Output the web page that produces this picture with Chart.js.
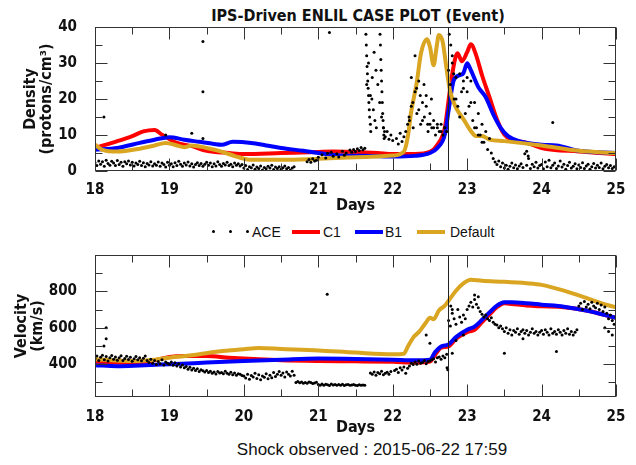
<!DOCTYPE html>
<html>
<head>
<meta charset="utf-8">
<script src="https://cdn.jsdelivr.net/npm/chart.js@4.4.0/dist/chart.umd.min.js"></script>
<style>
  html, body { margin: 0; padding: 0; background: #fff; }
  body { width: 636px; height: 465px; position: relative; overflow: hidden; font-family: "Liberation Sans", Arial, sans-serif; }
  .plot-title { position: absolute; left: 0; top: 6px; width: 716px; text-align: center; font: bold 16px "DejaVu Sans Condensed", "DejaVu Sans", sans-serif; color: #111; }
  .box { position: absolute; left: 0; width: 636px; }
  .legend { position: absolute; top: 222px; left: 0; width: 636px; height: 20px; font-size: 14px; color: #111; }
  .legend .dot { position: absolute; top: 8px; width: 3px; height: 3px; border-radius: 50%; background: #000; }
  .legend .ln { position: absolute; top: 8px; width: 28px; height: 4px; }
  .legend .txt { position: absolute; top: 1px; line-height: 18px; }
  .shock { position: absolute; left: 0; top: 440px; width: 744px; text-align: center; font-size: 17px; line-height: 20px; color: #111; }
</style>
</head>
<body>
<div class="plot-title">IPS-Driven ENLIL CASE PLOT (Event)</div>
<div class="box" style="top:0;height:220px;"><canvas id="density-chart" width="636" height="220"></canvas></div>
<div class="legend">
  <span class="dot" style="left:212px"></span><span class="dot" style="left:229px"></span><span class="dot" style="left:246px"></span>
  <span class="txt" style="left:252px">ACE</span>
  <span class="ln" style="left:292px;background:#ff0000"></span><span class="txt" style="left:323px">C1</span>
  <span class="ln" style="left:355px;background:#0000ff"></span><span class="txt" style="left:385px">B1</span>
  <span class="ln" style="left:417px;background:#daa520"></span><span class="txt" style="left:450px">Default</span>
</div>
<div class="box" style="top:235px;height:205px;"><canvas id="velocity-chart" width="636" height="205"></canvas></div>
<div class="shock">Shock observed : 2015-06-22 17:59</div>

<script>
// ---- data ----
const dayTicks = [18, 19, 20, 21, 22, 23, 24, 25];
const dayMinorTicks = [18.5, 19.5, 20.5, 21.5, 22.5, 23.5, 24.5];
const densityTicks = [0, 10, 20, 30, 40];
const densityMinorTicks = [5, 15, 25, 35];
const velocityTicks = [400, 600, 800];
const velocityMinorTicks = [300, 500, 700, 900];
const shockDay = 22.749; // 2015-06-22 17:59

// model runs: [day, value]
const c1Density = [[18, 6.4], [18.3, 8.3], [18.5, 9.7], [18.65, 11], [18.8, 11.4], [18.9, 10.1], [19.1, 7.8], [19.3, 6.9], [19.5, 5.6], [19.8, 5.0], [20, 4.7], [20.5, 5.0], [21, 5.3], [21.2, 5.4], [21.5, 5.3], [21.8, 5.0], [22, 4.7], [22.3, 4.7], [22.5, 5.3], [22.6, 7.3], [22.7, 12], [22.75, 19.5], [22.8, 27], [22.87, 32.7], [22.93, 30.5], [23, 33], [23.05, 35.2], [23.12, 32.2], [23.2, 26.6], [23.3, 20.5], [23.4, 14.4], [23.5, 10.1], [23.6, 8.7], [23.8, 7.8], [24, 6.4], [24.5, 5.4], [25, 4.7]];
const b1Density = [[18, 5.9], [18.3, 6.4], [18.6, 7.8], [18.8, 8.7], [19, 9.4], [19.2, 8.7], [19.4, 8.1], [19.6, 7.5], [19.7, 7.3], [19.85, 8.1], [20.1, 7.8], [20.3, 7.1], [20.5, 6.4], [20.8, 5.6], [21, 5.0], [21.3, 4.3], [21.7, 4.2], [22, 4.0], [22.3, 4.2], [22.5, 5.0], [22.6, 6.4], [22.7, 10.1], [22.75, 16.7], [22.82, 25.2], [22.9, 26.6], [22.95, 27.2], [23, 29.9], [23.05, 28], [23.15, 23.3], [23.25, 20.5], [23.35, 15.8], [23.45, 12], [23.55, 9.7], [23.7, 8.3], [24, 7.3], [24.2, 7.1], [24.5, 5.6], [25, 5.0]];
const defaultDensity = [[18, 7.3], [18.1, 5.9], [18.3, 5.4], [18.6, 6.2], [18.8, 7.1], [18.95, 7.8], [19.1, 7.1], [19.2, 6.6], [19.3, 7.1], [19.5, 6.4], [19.7, 5.4], [19.9, 4.0], [20.1, 3.1], [20.5, 3.1], [21, 3.4], [21.5, 3.8], [22, 4.3], [22.15, 5.4], [22.2, 9.2], [22.25, 16.7], [22.32, 24.2], [22.38, 32.7], [22.46, 36.6], [22.5, 34.5], [22.55, 29.4], [22.59, 34.5], [22.62, 37.8], [22.67, 36], [22.72, 28.9], [22.77, 22.3], [22.85, 17.6], [22.95, 14.4], [23.05, 11.1], [23.12, 9.7], [23.2, 9.7], [23.3, 8.7], [23.5, 8.3], [24, 7.1], [24.5, 5.6], [25, 5.0]];

const c1Velocity = [[18, 413], [18.5, 407], [18.8, 422], [19, 440], [19.2, 445], [19.5, 445], [19.8, 436], [20.2, 427], [20.5, 422], [21, 418], [21.5, 416], [22, 413], [22.3, 409], [22.5, 415], [22.58, 458], [22.65, 491], [22.75, 498], [22.85, 540], [23, 576], [23.1, 589], [23.2, 631], [23.3, 673], [23.4, 713], [23.5, 735], [23.6, 731], [23.8, 722], [24, 718], [24.3, 713], [24.6, 695], [25, 655]];
const b1Velocity = [[18, 395], [18.3, 389], [18.6, 393], [19, 400], [19.5, 409], [20, 418], [20.5, 425], [21, 431], [21.5, 429], [22, 425], [22.3, 422], [22.5, 425], [22.57, 467], [22.65, 498], [22.75, 509], [22.85, 549], [23, 589], [23.1, 607], [23.2, 644], [23.3, 685], [23.4, 722], [23.5, 740], [23.6, 740], [23.8, 735], [24, 727], [24.3, 716], [24.6, 695], [25, 655]];
const defaultVelocity = [[18, 427], [18.5, 418], [18.8, 425], [19, 436], [19.3, 449], [19.6, 467], [20, 482], [20.2, 489], [20.5, 484], [21, 476], [21.5, 464], [22, 455], [22.15, 458], [22.2, 495], [22.28, 549], [22.35, 576], [22.45, 631], [22.5, 655], [22.55, 647], [22.62, 695], [22.7, 722], [22.75, 749], [22.85, 804], [22.95, 844], [23.05, 864], [23.2, 858], [23.5, 853], [23.8, 845], [24, 836], [24.3, 804], [24.6, 764], [24.8, 735], [25, 713]];

// ACE observations, one value every 0.025 day from day 18 (null = no data)
const aceStart = 18;
const aceStep = 0.025;
const aceDensity = [
  2.3, 1.5, 2.8, 1.9, 2.6, 1.3, 3.0, 2.1, 1.6, 2.7, 2.2, 1.5, 2.9, 1.8, 2.4, 1.3, 2.6, 2.0, 2.8, 1.7,
  2.4, 1.4, 2.2, 1.8, 2.7, 1.5, 2.3, 1.2, 2.1, 1.7, 2.6, 1.4, 2.0, 1.6, 2.5, 1.3, 2.2, 1.8, 1.1, 2.4,
  1.6, 2.0, 1.2, 2.3, 1.5, 2.7, 1.9, 1.3, 2.2, 1.7, 2.5, 1.4, 2.0, 1.1, 1.8, 2.3, 1.5, 2.1, 1.3, 1.9,
  2.4, 1.6, 2.2, 1.2, 2.0, 1.4, 2.6, 1.8, 1.3, 2.1, 1.7, 2.4, 1.5, 1.9, 1.2, 2.2, 1.6, 2.0, 1.4, 1.8,
  0.8, 1.5, 0.4, 1.2, 0.9, 1.7, 0.5, 1.1, 0.7, 1.4, 0.3, 1.0, 0.6, 1.3, 0.8, 1.6, 0.4, 1.1, 0.7, 1.2,
  0.5, 0.9, 1.4, 0.6, 1.0, 0.3, 0.8, 1.2, null, null, null, null, null, null, 2.6, 3.2, 2.4, 3.4, 2.8, 3.0,
  3.8, null, 4.5, null, 3.6, 4.9, null, 5.2, 4.1, null, 4.8, 3.9, null, 5.5, 4.4, 5.0, null, 5.8, 5.2, 6.0,
  5.4, 6.2, 5.7, 6.5, 5.9, 6.3, 24, 30, 21, 26, 33, 28, 24, 19, 15, 12, 9.5, 11, 8.8, 10,
  8.5, null, 9.0, 7.5, 10.5, 8.2, 9.5, 11, 13, 14, 18, 12, 22, 16, 25, 13, 19, 15, 21, 11,
  13, 12, 14, 10, 12, 11, 13, 10, 12, 11, 28, 24, 30, 20, 26, 18, 27, 22, 25, 16,
  22, 18, 25, 14, 19, 12, 16, 10, 13, 8, 11, 6, 9, 5, 3.5, 2.5, 1.8, 2.8, 1.2, 2.2,
  0.8, 1.6, 0.5, 1.3, 2.2, 0.9, 1.7, 0.6, 1.4, 2.0, 1.0, 4.8, 1.6, 3.5, 0.7, 1.9, 1.2, 2.4, 0.8, 1.5,
  1.8, 0.6, 2.5, 1.2, 3.0, 0.9, 1.6, 2.2, 0.7, 1.4, 2.8, 1.1, 1.9, 0.5, 1.5, 2.4, 0.8, 1.3, 2.0, 0.6,
  1.7, 1.0, 2.3, 0.7, 1.4, 1.9, 0.5, 1.2, 2.1, 0.8, 1.6, 1.0, 2.2, 0.6, 1.3, 1.8, 0.9, 1.5, 0.7, 1.2,
  1.0
];
const aceDensityExtra = [[18.12, 15], [18.95, 10], [19.3, 10.5], [19.45, 36], [19.45, 22], [19.45, 9], [21.15, 38.5], [24.15, 13.5],
  [21.64, 38], [21.645, 35], [21.65, 32], [21.655, 29], [21.66, 27], [21.665, 25], [21.67, 23], [21.675, 21], [21.68, 19], [21.685, 17], [21.69, 15], [21.7, 13], [21.705, 11],
  [21.72, 20], [21.74, 17], [21.76, 14], [21.78, 12],
  [21.83, 38], [21.835, 35], [21.84, 31], [21.845, 28], [21.85, 25], [21.855, 22], [21.86, 19], [21.865, 16], [21.87, 14], [21.875, 12], [21.88, 10], [21.885, 9], [21.89, 11],
  [22.22, 15], [22.25, 26], [22.27, 19], [22.3, 32], [22.32, 23], [22.35, 17], [22.37, 21], [22.4, 14], [22.42, 24], [22.45, 18], [22.47, 13], [22.5, 16], [22.52, 20], [22.55, 12], [22.6, 13], [22.65, 11], [22.7, 12],
  [22.76, 38], [22.78, 35], [22.8, 32], [22.82, 27], [22.85, 20], [22.9, 15], [22.95, 23], [23.0, 26], [23.05, 19], [23.1, 12], [23.15, 10], [23.2, 8],
  [23.8, 5.5], [23.82, 4.2]];

const aceVelocity = [
  430, 445, 420, 438, 450, 425, 442, 418, 435, 448, 428, 440, 422, 436, 446, 420, 432, 444, 426, 438,
  416, 430, 442, 424, 436, 419, 433, 445, 421, 410, 428, 405, 420, 398, 415, 402, 425, 396, 412, 405,
  400, 412, 395, 408, 390, 402, 385, 396, 380, 388, 372, 384, 368, 378, 365, 375, 360, 370, 364, 358,
  366, 355, 362, 350, 358, 346, 360, 352, 355, 348, 362, 350, 345, 356, 342, 352, 340, 348, 345, 338,
  335, 325, 345, 318, 338, 330, 350, 322, 342, 315, 336, 328, 348, 320, 340, 326, 355, 332, 345, 360,
  340, 352, 330, 358, 345, 335, 362, 340, 300, 305, 298, 302, 295, 300, 296, 303, 299, 294, 297, 301,
  288, 285, 292, 284, 290, 287, 283, 291, 286, 289, 284, 288, 285, 290, 283, 287, 289, 284, 286, 288,
  285, 283, 287, 284, 286, 285, null, null, 352, 345, 358, 340, 355, 348, 362, 342, 350, 356, 345, 360,
  null, 365, 372, 355, 380, 368, 385, 350, 378, 390, 405, 398, 412, 400, 418, 406, 410, 420, 402, 415,
  418, 425, 430, 412, 435, 440, 428, 445, 436, 455, 640, 610, 680, 650, 620, 700, 660, 630, 670, 650,
  700, 720, 740, 715, 755, 730, 710, 690, 675, 660, 670, 650, 640, 655, 630, 620, 615, 600, 610, 595,
  580, 600, 570, 590, 560, 585, 575, 595, 565, 580, 590, 570, 585, 560, 575, 595, 570, 580, 560, 575,
  585, 565, 590, 575, 560, 595, 570, 580, 565, 590, 575, 560, 585, 570, 595, 565, 580, 560, 575, 590,
  720, 735, 700, 745, 715, 730, 705, 740, 720, 710, 735, 700, 725, 690, 715, 680, 650, 670, 640, 620,
  660
];
const aceVelocityExtra = [[18.15, 600], [18.15, 540], [18.12, 500], [21.12, 785], [22.45, 560], [22.5, 515], [22.73, 380], [22.74, 370],
  [22.78, 720], [22.8, 700], [22.8, 460], [22.85, 530], [22.95, 560], [23.1, 780], [23.15, 770], [23.5, 460], [23.75, 540], [24.2, 470],
  [24.85, 600], [24.9, 580], [24.95, 560]];

// ---- helpers ----
const RED = '#ff0000';
const BLUE = '#0000ff';
const GOLD = '#daa520';
const boldFont = (size) => ({ family: '"DejaVu Sans Condensed", "DejaVu Sans", sans-serif', weight: 'bold', size });

const pairs = (arr) => arr.map(([x, y]) => ({ x, y }));
const aceSeries = (vals, extra) => vals
  .map((v, i) => ({ x: aceStart + i * aceStep, y: v }))
  .filter((p) => p.y !== null)
  .concat(pairs(extra));

// frame, inward ticks and shock line, placed through the chart scales
const frameTicks = {
  id: 'frameTicks',
  afterDatasetsDraw(chart, args, opts) {
    const { ctx, chartArea: a, scales: { x, y } } = chart;
    const seg = (x1, y1, x2, y2) => { ctx.beginPath(); ctx.moveTo(x1, y1); ctx.lineTo(x2, y2); ctx.stroke(); };
    ctx.save();
    ctx.strokeStyle = '#333';
    ctx.lineWidth = 1;
    const L = Math.round(a.left) + 0.5, R = Math.round(a.right) - 0.5;
    const T = Math.round(a.top) + 0.5, B = Math.round(a.bottom) - 0.5;
    ctx.strokeRect(L, T, R - L, B - T);

    const xt = (vals, len) => vals.forEach((v) => {
      const px = Math.round(x.getPixelForValue(v)) + 0.5;
      seg(px, B, px, B - len); seg(px, T, px, T + len);
    });
    const yt = (vals, len) => vals.forEach((v) => {
      const py = Math.round(y.getPixelForValue(v)) + 0.5;
      seg(L, py, L + len, py); seg(R, py, R - len, py);
    });
    xt(dayTicks, 12); xt(dayMinorTicks, 7);
    yt(opts.major, 12); yt(opts.minor, 7);

    const sx = Math.round(x.getPixelForValue(shockDay)) + 0.5;
    ctx.strokeStyle = '#222';
    seg(sx, T, sx, B);
    ctx.restore();
  },
};

function makeChart(id, cfg) {
  return new Chart(document.getElementById(id), {
    type: 'scatter',
    data: {
      datasets: [
        { label: 'ACE', data: cfg.ace, pointRadius: 1.5, pointBackgroundColor: '#000', pointBorderWidth: 0, showLine: false },
        { label: 'Default', data: pairs(cfg.def), borderColor: GOLD, borderWidth: 4, pointRadius: 0, showLine: true, cubicInterpolationMode: 'monotone' },
        { label: 'B1', data: pairs(cfg.b1), borderColor: BLUE, borderWidth: 4, pointRadius: 0, showLine: true, cubicInterpolationMode: 'monotone' },
        { label: 'C1', data: pairs(cfg.c1), borderColor: RED, borderWidth: 4, pointRadius: 0, showLine: true, cubicInterpolationMode: 'monotone' },
      ],
    },
    options: {
      responsive: false,
      animation: false,
      layout: { padding: { top: cfg.padTop, right: 20, left: 0, bottom: 0 } },
      plugins: {
        legend: { display: false },
        tooltip: { enabled: false },
        frameTicks: { major: cfg.major, minor: cfg.minor },
      },
      scales: {
        x: {
          type: 'linear', min: 18, max: 25,
          grid: { display: false }, border: { display: false },
          afterBuildTicks: (s) => { s.ticks = dayTicks.map((v) => ({ value: v })); },
          afterFit: (s) => { s.height = cfg.xHeight; },
          ticks: { color: '#111', font: boldFont(15), padding: cfg.xPad },
          title: { display: true, text: 'Days', color: '#111', font: boldFont(16), padding: { top: 0, bottom: cfg.daysPad } },
        },
        y: {
          type: 'linear', min: cfg.yMin, max: cfg.yMax,
          grid: { display: false }, border: { display: false },
          afterBuildTicks: (s) => { s.ticks = cfg.major.map((v) => ({ value: v })); },
          afterFit: (s) => { s.width = 95; },
          ticks: { color: '#111', font: boldFont(15), padding: 10 },
          title: { display: true, text: cfg.yTitle, color: '#111', font: { ...boldFont(16), lineHeight: cfg.titleLH }, padding: { top: cfg.titlePad, bottom: 0 } },
        },
      },
    },
    plugins: [frameTicks],
  });
}

makeChart('density-chart', {
  ace: aceSeries(aceDensity, aceDensityExtra),
  c1: c1Density, b1: b1Density, def: defaultDensity,
  yMin: 0, yMax: 40, major: densityTicks, minor: densityMinorTicks,
  yTitle: ['Density', '(protons/cm³)'], titleLH: 1.05, titlePad: 22,
  padTop: 27, xHeight: 49, xPad: 2, daysPad: 5,
});

makeChart('velocity-chart', {
  ace: aceSeries(aceVelocity, aceVelocityExtra),
  c1: c1Velocity, b1: b1Velocity, def: defaultVelocity,
  yMin: 220, yMax: 1000, major: velocityTicks, minor: velocityMinorTicks,
  yTitle: ['Velocity', '(km/s)'], titleLH: 1.0, titlePad: 14,
  padTop: 20, xHeight: 43, xPad: 3, daysPad: 3,
});
</script>
</body>
</html>
